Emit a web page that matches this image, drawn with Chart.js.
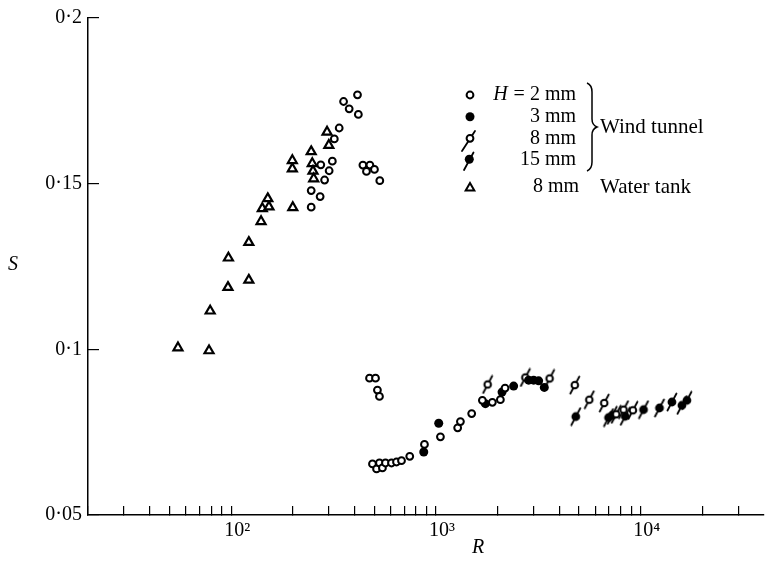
<!DOCTYPE html>
<html><head><meta charset="utf-8">
<script src="https://cdn.jsdelivr.net/npm/chart.js@4.4.0/dist/chart.umd.min.js"></script>
<style>html,body{margin:0;padding:0;background:#fff}canvas{display:block}</style>
</head><body>
<canvas id="c" width="765" height="562"></canvas>
<script>
// ---- tick definitions ----
const xTickValues = [20,30,40,50,60,70,80,90,100,200,300,400,500,600,700,800,900,1000,2000,3000,4000,5000,6000,7000,8000,9000,10000,20000,30000];
const xMajorLabels = {100:'10²', 1000:'10³', 10000:'10⁴'};
const yTickValues = [0.05,0.1,0.15,0.2];

// ---- data: R (Reynolds number), S (Strouhal number) ----
// Wind tunnel, H = 2 mm (open circles)
const h2R = [414,354,377,418,337,319,312,274,301,286,246,272,246,440,476,458,501,532,
             474,507,518,530,
             490,513,530,548,567,607,642,679,745,879,1052,1277,1317,1495,1686,1886,2064,2176];
const h2S = [0.1768,0.1748,0.1726,0.1709,0.1668,0.1635,0.1568,0.1557,0.1539,0.1511,0.1479,0.1461,0.1429,0.1556,0.1556,0.1537,0.1543,0.1509,
             0.0913,0.0913,0.0877,0.0858,
             0.0654,0.0639,0.0657,0.0642,0.0657,0.0657,0.0660,0.0664,0.0677,0.0713,0.0736,0.0763,0.0782,0.0806,0.0846,0.0840,0.0848,0.0883];
// Wind tunnel, H = 3 mm (filled circles)
const h3R = [872,1032,1744,2103,2396,2836,3000,3174,3383];
const h3S = [0.0690,0.0777,0.0836,0.0871,0.0889,0.0907,0.0907,0.0905,0.0885];
// Wind tunnel, H = 8 mm (open circle with slash)
const h8R = [1789,2733,3590,4764,5607,6637,7595,8245,9162];
const h8S = [0.0894,0.0915,0.0912,0.0892,0.0848,0.0838,0.0804,0.0818,0.0816];
// Wind tunnel, H = 15 mm (filled circle with slash)
const h15R = [4818,6966,7261,8404,10320,12350,14200,15890,16810];
const h15S = [0.0797,0.0794,0.0801,0.0798,0.0818,0.0823,0.0841,0.0831,0.0846];
// Water tank, H = 8 mm (triangles)
const wtR = [55,78,79,96.5,97,122,122,140,142,153,151,200,199,199,246,249,251,253,294,300];
const wtS = [0.1005,0.0996,0.1116,0.1187,0.1276,0.1209,0.1323,0.1386,0.1425,0.1430,0.1455,0.1428,0.1545,0.1570,0.1597,0.1561,0.1538,0.1515,0.1656,0.1616];

const FONT = "'Liberation Serif','Times New Roman',serif";
Chart.defaults.font.family = FONT;
Chart.defaults.font.size = 20;
Chart.defaults.color = '#000';

function pts(R,S){ return R.map((r,i)=>({x:r,y:S[i]})); }

function slashMarker(filled){
  const c = document.createElement('canvas'); c.width = 14; c.height = 20;
  const g = c.getContext('2d');
  g.strokeStyle = '#000'; g.lineWidth = 1.8; g.lineCap = 'round';
  g.beginPath(); g.moveTo(2.5,18.5); g.lineTo(11.5,1.5); g.stroke();
  g.beginPath(); g.arc(7,10,filled?4.4:3.3,0,Math.PI*2);
  if (filled){ g.fillStyle='#000'; g.fill(); }
  else { g.fillStyle='#fff'; g.fill(); g.lineWidth=2; g.stroke(); }
  return c;
}

// stretch the x axis so that it runs to the right edge of the figure
const fitRight = {
  id:'fitRight',
  afterLayout(chart){
    try {
      const s = chart.scales.x, a = chart.chartArea, target = 764;
      if (a.right < target) {
        a.right = target; a.width = target - a.left;
        s.right = target; s.width = target - s.left;
        s.configure();
      }
    } catch(e) {}
  }
};

const annot = {
  id:'annot',
  afterDraw(chart){
    const ctx = chart.ctx; ctx.save();
    ctx.fillStyle='#000'; ctx.strokeStyle='#000'; ctx.textBaseline='middle';
    // axis titles
    ctx.font = `italic 20px ${FONT}`; ctx.textAlign='center';
    ctx.fillText('S', 13, 265);
    ctx.fillText('R', 478, 548);
    // legend markers
    ctx.lineWidth = 2;
    ctx.beginPath(); ctx.arc(470,95,3.4,0,Math.PI*2); ctx.fillStyle='#fff'; ctx.fill(); ctx.stroke();
    ctx.fillStyle='#000';
    ctx.beginPath(); ctx.arc(470,116.7,4.5,0,Math.PI*2); ctx.fill();
    ctx.lineWidth = 1.8; ctx.lineCap='round';
    ctx.beginPath(); ctx.moveTo(462,151); ctx.lineTo(475,131); ctx.stroke();
    ctx.lineWidth = 2;
    ctx.beginPath(); ctx.arc(470,138.3,3.4,0,Math.PI*2); ctx.fillStyle='#fff'; ctx.fill(); ctx.stroke();
    ctx.fillStyle='#000'; ctx.lineWidth = 1.8;
    ctx.beginPath(); ctx.moveTo(464,170); ctx.lineTo(473.5,152.5); ctx.stroke();
    ctx.beginPath(); ctx.arc(469.3,159.3,4.5,0,Math.PI*2); ctx.fill();
    ctx.lineWidth = 2; ctx.lineCap='butt';
    ctx.beginPath();
    const r=5, cx=470, cy=188;
    for(let k=0;k<3;k++){ const a = k*2*Math.PI/3; const px=cx+Math.sin(a)*r, py=cy-Math.cos(a)*r; k?ctx.lineTo(px,py):ctx.moveTo(px,py); }
    ctx.closePath(); ctx.fillStyle='#fff'; ctx.fill(); ctx.stroke(); ctx.fillStyle='#000';
    // legend text
    ctx.font = `20px ${FONT}`; ctx.textAlign='right';
    const eq = '= 2 mm';
    ctx.fillText(eq, 576, 95);
    const w = ctx.measureText(eq).width;
    ctx.font = `italic 20px ${FONT}`;
    ctx.fillText('H', 576 - w - 6, 95);
    ctx.font = `20px ${FONT}`;
    ctx.fillText('3 mm', 576, 116.7);
    ctx.fillText('8 mm', 576, 138.3);
    ctx.fillText('15 mm', 576, 159.3);
    ctx.fillText('8 mm', 579, 187);
    ctx.textAlign='left';
    ctx.font = `21px ${FONT}`;
    ctx.fillText('Wind tunnel', 600, 127);
    ctx.fillText('Water tank', 600, 187);
    // brace
    ctx.lineWidth = 1.5;
    ctx.beginPath();
    ctx.moveTo(587,83);
    ctx.quadraticCurveTo(592,85,592,92);
    ctx.lineTo(592,119);
    ctx.quadraticCurveTo(592,125,597,127);
    ctx.quadraticCurveTo(592,129,592,135);
    ctx.lineTo(592,162);
    ctx.quadraticCurveTo(592,169,587,171);
    ctx.stroke();
    ctx.restore();
  }
};

new Chart(document.getElementById('c'), {
  type:'scatter',
  data:{ datasets:[
    {label:'H = 2 mm', data:pts(h2R,h2S), pointStyle:'circle', pointRadius:3.4, borderWidth:2, borderColor:'#000', backgroundColor:'#fff'},
    {label:'3 mm', data:pts(h3R,h3S), pointStyle:'circle', pointRadius:4.5, borderWidth:0, borderColor:'#000', backgroundColor:'#000'},
    {label:'8 mm', data:pts(h8R,h8S), pointStyle:slashMarker(false), pointRadius:5},
    {label:'15 mm', data:pts(h15R,h15S), pointStyle:slashMarker(true), pointRadius:5},
    {label:'8 mm Water tank', data:pts(wtR,wtS), pointStyle:'triangle', pointRadius:5.2, borderWidth:2.2, borderColor:'#000', backgroundColor:'#fff'}
  ]},
  options:{
    responsive:false, animation:false,
    layout:{padding:{top:18,right:1,bottom:0,left:0}},
    plugins:{legend:{display:false}, tooltip:{enabled:false}},
    scales:{
      x:{
        type:'logarithmic', position:'bottom', min:20, max:40000,
        border:{display:true,color:'#000',width:1.5},
        grid:{display:true,drawOnChartArea:false,drawTicks:true,tickLength:-9,color:'#000',lineWidth:1.2},
        ticks:{autoSkip:false,maxRotation:0,minRotation:0,padding:13,labelOffset:6,color:'#000',
               callback:(v)=>xMajorLabels[v]||''},
        afterBuildTicks:(s)=>{ s.ticks = xTickValues.map(v=>({value:v})); },
        afterFit:(s)=>{ s.height = 47; s.paddingLeft = 0; s.paddingRight = 0; }
      },
      y:{
        type:'linear', position:'left', min:0.05, max:0.2,
        border:{display:true,color:'#000',width:1.5},
        grid:{display:true,drawOnChartArea:false,drawTicks:true,tickLength:-11,color:'#000',lineWidth:1.2},
        ticks:{padding:17,color:'#000',callback:(v)=>String(v).replace('.','·')},
        afterBuildTicks:(s)=>{ s.ticks = yTickValues.map(v=>({value:v})); },
        afterFit:(s)=>{ s.width = 88; s.paddingTop = 0; s.paddingBottom = 0; }
      }
    }
  },
  plugins:[fitRight, annot]
});
</script>
</body></html>
